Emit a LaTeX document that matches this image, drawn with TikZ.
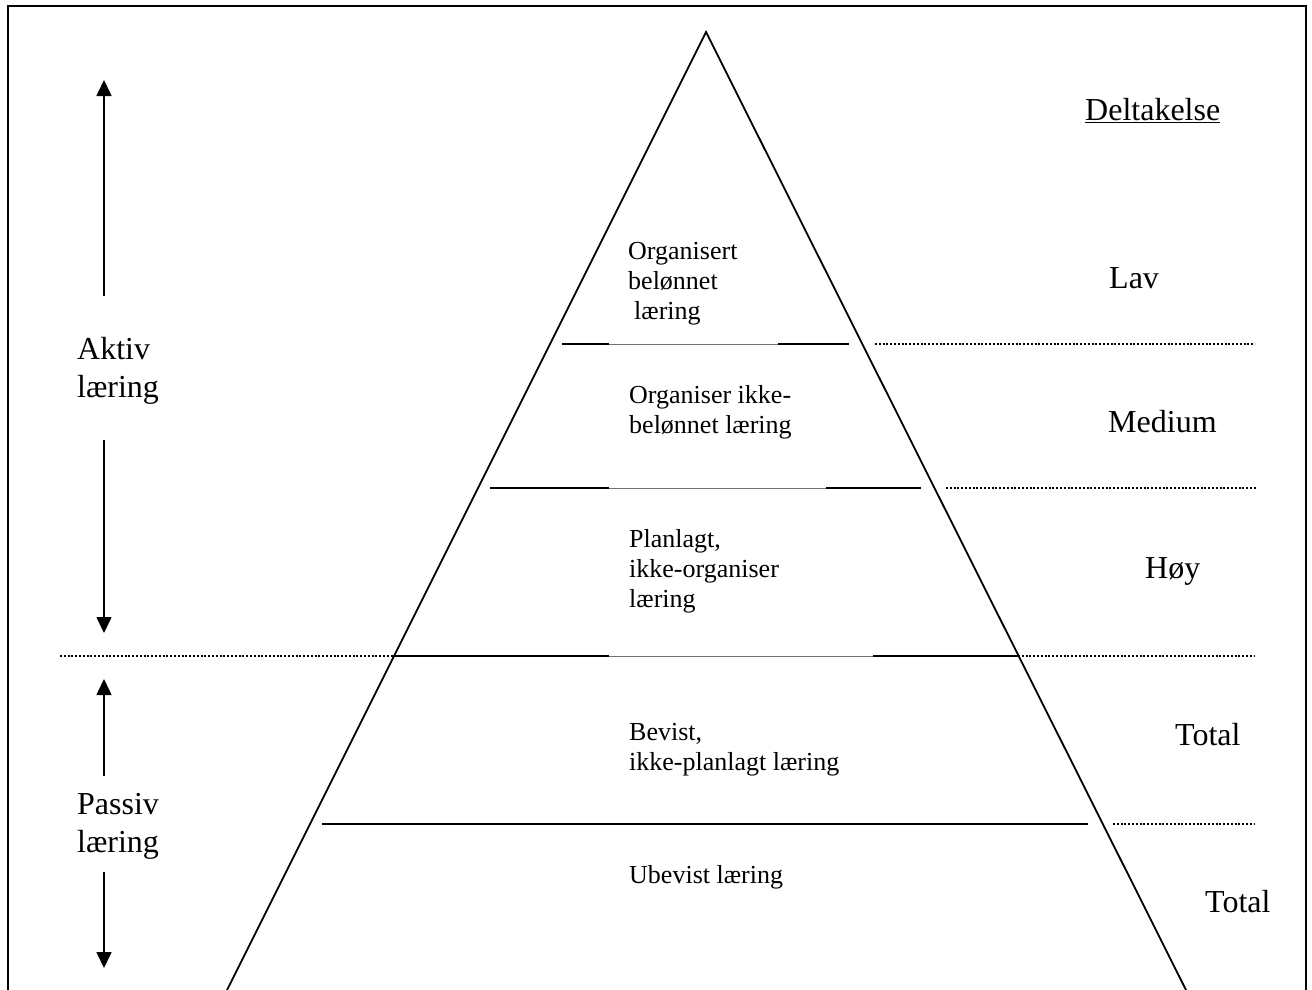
\documentclass[tikz,border=0pt]{standalone}
\usepackage{fontspec}
\setmainfont{Liberation Serif}
\usetikzlibrary{arrows.meta}
\begin{document}
\begin{tikzpicture}[x=1pt,y=-1pt,
  side/.style={line width=1.8pt,black},
  level/.style={line width=1.8pt,black},
  gap/.style={line width=0.9pt,black!55},
  dots/.style={line width=2pt,dash pattern=on 2pt off 1.8pt},
  frame/.style={line width=2.5pt},
  updown/.style={line width=1.6pt,-{Triangle[width=15pt,length=16pt]}},
  big/.style={font=\fontsize{32}{37.5}\selectfont,inner sep=0pt,align=left,anchor=base west},
  small/.style={font=\fontsize{26}{30}\selectfont,inner sep=0pt,align=left,anchor=base west}]
\useasboundingbox (0,0) rectangle (1312,990);
\begin{scope}
\clip (0,0) rectangle (1312,990);
% outer frame (open at the bottom of the page)
\coordinate (f1) at (8,1000);
\coordinate (f2) at (8,6);
\coordinate (f3) at (1306,6);
\coordinate (f4) at (1306,1000);
\draw[frame] (f1) -- (f2) -- (f3) -- (f4);

% pyramid
\coordinate (apex) at (706,32);
\coordinate (bl) at (227,990);
\coordinate (br) at (1186,990);
\draw[side] (bl) -- (apex) -- (br);

% level 1 (y=344)
\coordinate (a1) at (562,344); \coordinate (a2) at (609,344);
\coordinate (a3) at (778,344); \coordinate (a4) at (849,344);
\coordinate (a5) at (875,344); \coordinate (a6) at (1255,344);
\draw[level] (a1) -- (a2); \draw[gap] (a2) -- (a3); \draw[level] (a3) -- (a4);
\draw[dots] (a5) -- (a6);

% level 2 (y=488)
\coordinate (b1) at (490,488); \coordinate (b2) at (609,488);
\coordinate (b3) at (826,488); \coordinate (b4) at (921,488);
\coordinate (b5) at (946,488); \coordinate (b6) at (1257,488);
\draw[level] (b1) -- (b2); \draw[gap] (b2) -- (b3); \draw[level] (b3) -- (b4);
\draw[dots] (b5) -- (b6);

% level 3 (y=656), boundary between active and passive learning
\coordinate (c0) at (60,656);
\coordinate (c1) at (395,656); \coordinate (c2) at (609,656);
\coordinate (c3) at (873,656); \coordinate (c4) at (1018,656);
\coordinate (c5) at (1255,656);
\draw[dots] (c0) -- (c1);
\draw[level] (c1) -- (c2); \draw[gap] (c2) -- (c3); \draw[level] (c3) -- (c4);
\draw[dots] (c4) -- (c5);

% level 4 (y=824)
\coordinate (d1) at (322,824); \coordinate (d2) at (1088,824);
\coordinate (d3) at (1113,824); \coordinate (d4) at (1255,824);
\draw[level] (d1) -- (d2);
\draw[dots] (d3) -- (d4);

% texts inside the pyramid
\node[small] (t1) at (628,319) {Organisert\\belønnet\\\hspace*{6pt}læring};
\node[small] (t2) at (629,433) {Organiser ikke-\\belønnet læring};
\node[small] (t3) at (629,607) {Planlagt,\\ikke-organiser\\læring};
\node[small] (t4) at (629,770) {Bevist,\\ikke-planlagt læring};
\node[small] (t5) at (629,883) {Ubevist læring};

% participation column
\node[big] (hd) at (1085,120) {\underline{Deltakelse}};
\node[big] (p1) at (1109,288) {Lav};
\node[big] (p2) at (1108,432) {Medium};
\node[big] (p3) at (1145,578) {Høy};
\node[big] (p4) at (1175,745) {Total};
\node[big] (p5) at (1205,912) {Total};

% active / passive labels with arrows
\node[big] (act) at (77,397) {Aktiv\\læring};
\node[big] (pas) at (77,852) {Passiv\\læring};
\coordinate (u1s) at (104,296); \coordinate (u1e) at (104,80);
\coordinate (d1s) at (104,440); \coordinate (d1e) at (104,633);
\coordinate (u2s) at (104,776); \coordinate (u2e) at (104,679);
\coordinate (d2s) at (104,872); \coordinate (d2e) at (104,968);
\draw[updown] (u1s) -- (u1e);
\draw[updown] (d1s) -- (d1e);
\draw[updown] (u2s) -- (u2e);
\draw[updown] (d2s) -- (d2e);
\end{scope}
\end{tikzpicture}
\end{document}
